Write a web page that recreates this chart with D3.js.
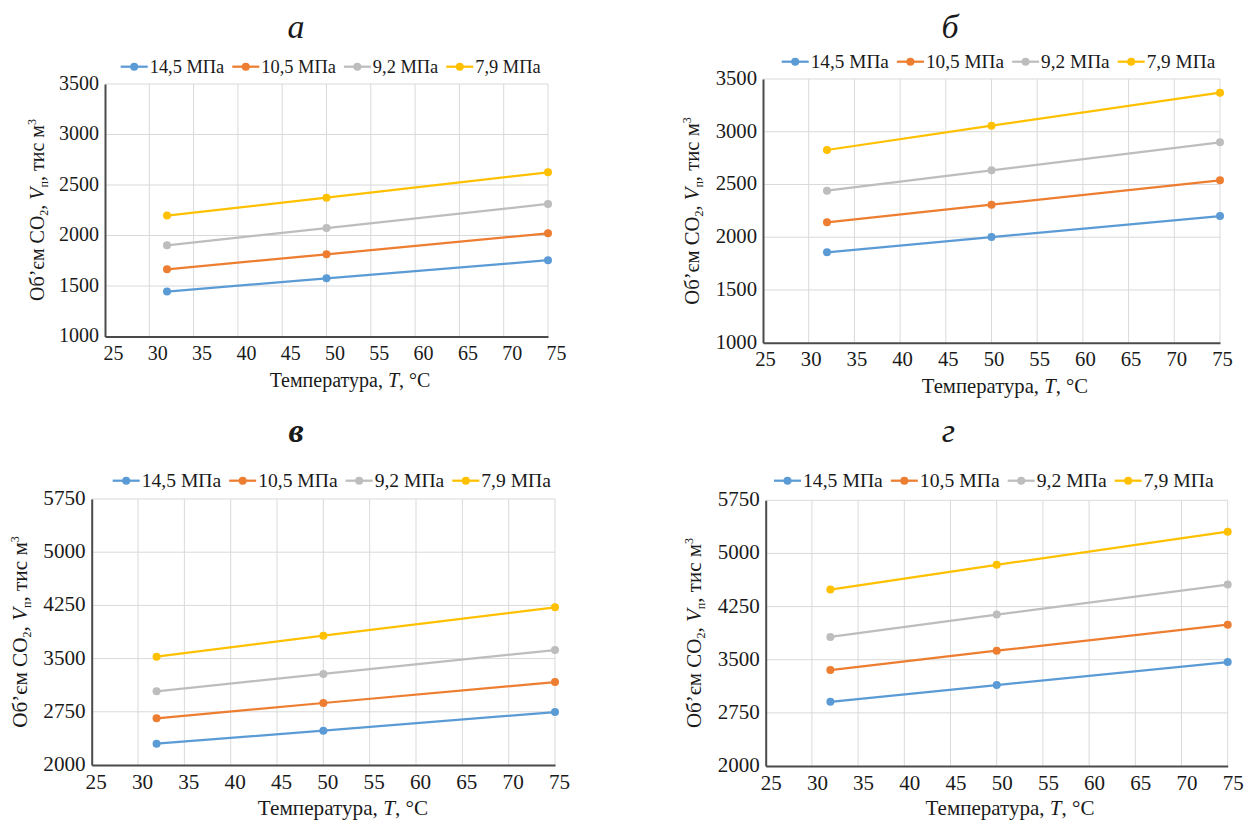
<!DOCTYPE html>
<html><head><meta charset="utf-8">
<script src="https://cdn.jsdelivr.net/npm/d3@7/dist/d3.min.js"></script>
<style>
html,body{margin:0;padding:0;background:#fff;}
text{font-family:"Liberation Serif","Times New Roman",serif;fill:#1a1a1a;}
</style></head>
<body>
<svg id="chart" width="1249" height="822"></svg>
<script>
// ---- data ----
const temperatures = [32, 50, 75];
const seriesNames = ["14,5 МПа", "10,5 МПа", "9,2 МПа", "7,9 МПа"];
const seriesColors = ["#5b9bd5", "#ed7d31", "#bdbdbd", "#ffc000"];
const panelLabels = ["а", "б", "в", "г"];
const xTickValues = [25, 30, 35, 40, 45, 50, 55, 60, 65, 70, 75];
const yTicksAB = [1000, 1500, 2000, 2500, 3000, 3500];
const yTicksCD = [2000, 2750, 3500, 4250, 5000, 5750];

// panel а
const a_145 = [1445, 1576, 1755];
const a_105 = [1665, 1814, 2022];
const a_92  = [1903, 2074, 2312];
const a_79  = [2197, 2374, 2626];
// panel б
const b_145 = [1857, 2002, 2201];
const b_105 = [2141, 2308, 2539];
const b_92  = [2441, 2634, 2900];
const b_79  = [2827, 3057, 3370];
// panel в
const c_145 = [2300, 2484, 2747];
const c_105 = [2658, 2874, 3170];
const c_92  = [3039, 3283, 3621];
const c_79  = [3527, 3823, 4223];
// panel г
const d_145 = [2906, 3142, 3467];
const d_105 = [3354, 3627, 3995];
const d_92  = [3821, 4137, 4561];
const d_79  = [4490, 4840, 5307];

const panelSeries = [
  [a_145, a_105, a_92, a_79],
  [b_145, b_105, b_92, b_79],
  [c_145, c_105, c_92, c_79],
  [d_145, d_105, d_92, d_79]
];
const panelYTicks = [yTicksAB, yTicksAB, yTicksCD, yTicksCD];

// ---- layout ----
const layout = [
  {x0:105, x1:548, y0:84, y1:336.5, title:[296,38], bold:false, legend:[120.7,66.7], xTitle:[350,387], yTitle:[44,210], dx:8, fs:20, lfs:18.4},
  {x0:763, x1:1220, y0:79, y1:342.7, title:[950,38], bold:false, legend:[781.7,61.7], xTitle:[1005,393], yTitle:[699,211], dx:2, fs:20.7, lfs:19.3},
  {x0:91.7, x1:555, y0:499, y1:765, title:[296,442], bold:true, legend:[112.7,480.7], xTitle:[343,815], yTitle:[27,632], dx:4, fs:21.2, lfs:19.6},
  {x0:765.7, x1:1227.7, y0:500.3, y1:766, title:[948.5,442], bold:false, legend:[774,480.7], xTitle:[1010,815], yTitle:[701,633], dx:5, fs:21, lfs:19.7}
];

const svg = d3.select("#chart");

panelSeries.forEach((series, pi) => {
  const L = layout[pi];
  const ticks = panelYTicks[pi];
  const g = svg.append("g");
  const x = d3.scaleLinear().domain([xTickValues[0], xTickValues[xTickValues.length-1]]).range([L.x0, L.x1]);
  const y = d3.scaleLinear().domain([ticks[0], ticks[ticks.length-1]]).range([L.y1, L.y0]);

  // gridlines
  g.append("g").selectAll("line").data(xTickValues.slice(1)).join("line")
    .attr("x1", d => x(d)).attr("x2", d => x(d))
    .attr("y1", L.y0).attr("y2", L.y1)
    .attr("stroke", "#d9d9d9").attr("stroke-width", 1);
  g.append("g").selectAll("line").data(ticks.slice(1)).join("line")
    .attr("x1", L.x0).attr("x2", L.x1)
    .attr("y1", d => y(d)).attr("y2", d => y(d))
    .attr("stroke", "#d9d9d9").attr("stroke-width", 1);

  // axes
  const yAxis = d3.axisLeft(y).tickValues(ticks).tickSize(0).tickPadding(6).tickFormat(d3.format("d"));
  const yg = g.append("g").attr("transform", `translate(${L.x0},0)`).call(yAxis);
  yg.select(".domain").attr("stroke", "#4a4a4a").attr("stroke-width", 2);
  yg.selectAll("text").attr("font-size", L.fs).attr("font-family", "Liberation Serif").attr("fill", "#1a1a1a").attr("dy", "0.26em");

  const xAxis = d3.axisBottom(x).tickValues(xTickValues).tickSize(0).tickPadding(8).tickFormat(d3.format("d"));
  const xg = g.append("g").attr("transform", `translate(0,${L.y1})`).call(xAxis);
  xg.select(".domain").attr("stroke", "#4a4a4a").attr("stroke-width", 2);
  xg.selectAll("text").attr("font-size", L.fs).attr("font-family", "Liberation Serif").attr("fill", "#1a1a1a").attr("dx", L.dx).attr("dy", "0.75em");

  // series
  const line = d3.line().x((d, i) => x(temperatures[i])).y(d => y(d));
  series.forEach((vals, si) => {
    g.append("path").datum(vals).attr("d", line)
      .attr("fill", "none").attr("stroke", seriesColors[si]).attr("stroke-width", 2.25);
    g.append("g").selectAll("circle").data(vals).join("circle")
      .attr("cx", (d, i) => x(temperatures[i])).attr("cy", d => y(d)).attr("r", 4)
      .attr("fill", seriesColors[si]);
  });

  // panel title
  g.append("text").attr("x", L.title[0]).attr("y", L.title[1])
    .attr("text-anchor", "middle").attr("font-size", 34).attr("font-style", "italic")
    .attr("font-weight", L.bold ? "bold" : "normal").text(panelLabels[pi]);

  // legend
  let lx = L.legend[0];
  const ly = L.legend[1];
  seriesNames.forEach((name, si) => {
    g.append("line").attr("x1", lx).attr("x2", lx + 27).attr("y1", ly).attr("y2", ly)
      .attr("stroke", seriesColors[si]).attr("stroke-width", 2.25);
    g.append("circle").attr("cx", lx + 13.5).attr("cy", ly).attr("r", 4).attr("fill", seriesColors[si]);
    const t = g.append("text").attr("x", lx + 29).attr("y", ly + 6).attr("font-size", L.lfs).text(name);
    lx = lx + 29 + t.node().getComputedTextLength() + 8;
  });

  // x title
  const xt = g.append("text").attr("x", L.xTitle[0]).attr("y", L.xTitle[1])
    .attr("text-anchor", "middle").attr("font-size", L.fs);
  xt.append("tspan").text("Температура, ");
  xt.append("tspan").attr("font-style", "italic").text("T");
  xt.append("tspan").text(", °C");

  // y title
  const yt = g.append("text")
    .attr("transform", `translate(${L.yTitle[0]},${L.yTitle[1]}) rotate(-90)`)
    .attr("text-anchor", "middle").attr("font-size", L.fs);
  yt.append("tspan").text("Об’єм CO");
  yt.append("tspan").attr("font-size", 12).attr("dy", 4).text("2");
  yt.append("tspan").attr("dy", -4).text(",  ");
  yt.append("tspan").attr("font-style", "italic").text("V");
  yt.append("tspan").attr("font-size", 12).attr("dy", 4).text("п");
  yt.append("tspan").attr("dy", -4).text(",  тис м");
  yt.append("tspan").attr("font-size", 12).attr("dy", -8).text("3");
});
</script>
</body></html>
